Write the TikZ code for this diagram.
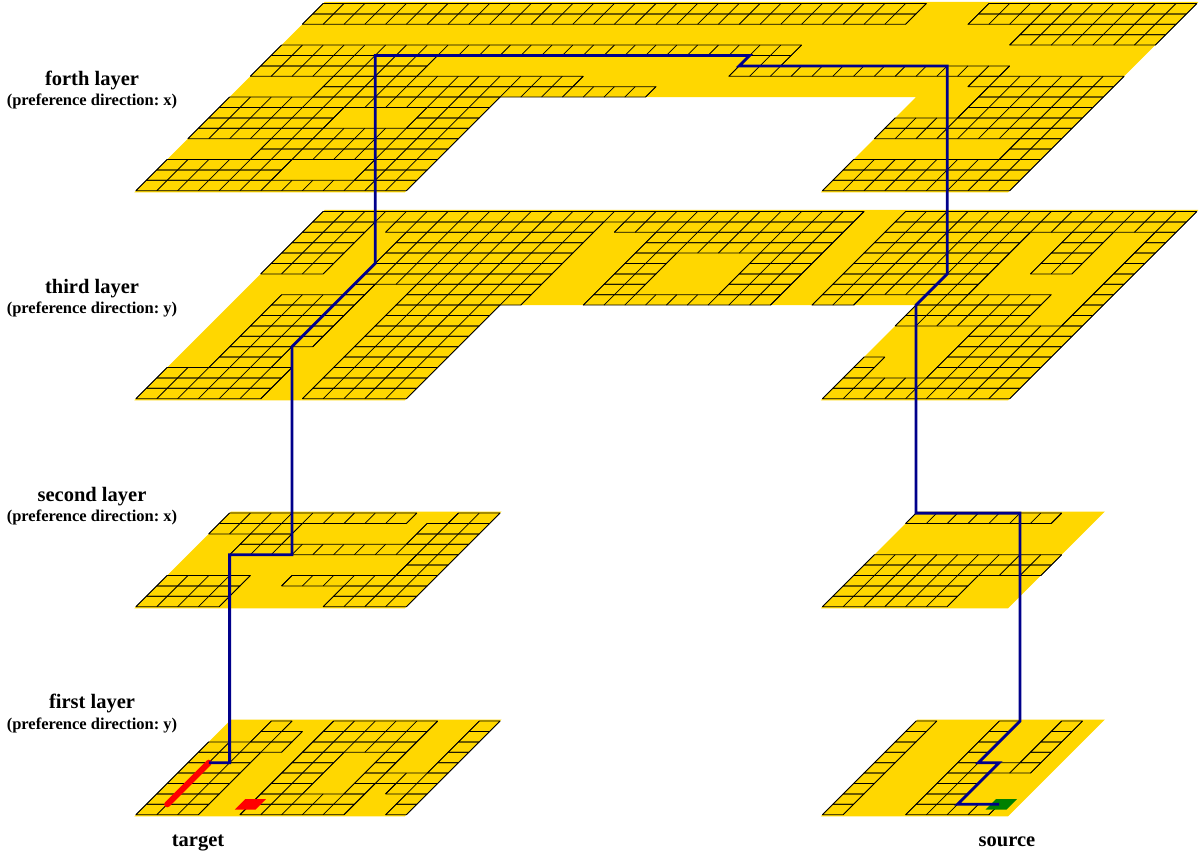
\documentclass[tikz,border=0pt]{standalone}
\usepackage{fontspec}
\setmainfont{Liberation Serif}
\definecolor{metal}{RGB}{255,215,0}
\definecolor{wire}{RGB}{0,0,139}
\definecolor{pinred}{RGB}{255,0,0}
\definecolor{pingreen}{RGB}{0,128,0}
\tikzset{
  layerframe/.style={x={(20.8pt,0pt)},y={(10.4pt,10.4pt)},shift={(136pt,#1)}},
  metalarea/.style={fill=metal,draw=none},
  gridline/.style={draw=black,line width=0.75pt,line join=round},
  wirepath/.style={draw=wire,line width=2.8pt,line join=miter},
  viabar/.style={draw=pinred,line width=6pt,line cap=round},
  redpin/.style={fill=pinred,draw=none},
  greenpin/.style={fill=pingreen,draw=none},
  layertitle/.style={anchor=base,font=\fontsize{20.5}{24}\selectfont\bfseries\frenchspacing,inner sep=0pt},
  layernote/.style={anchor=base,font=\fontsize{16.5}{20}\selectfont\bfseries\frenchspacing,inner sep=0pt}
}
\newcommand{\cellrun}[3]{%
  \draw[gridline] (#2,#1) -- (#3,#1) -- (#3,#1+1) -- (#2,#1+1) -- cycle;
  \foreach \k in {#2,...,#3} {\draw[gridline] (\k,#1) -- (\k,#1+1);}%
}
\newcommand{\rw}[2]{\foreach \a/\b in {#2} {\cellrun{#1}{\a}{\b}}}
\begin{document}
\begin{tikzpicture}
\useasboundingbox (0pt,0pt) rectangle (1201pt,-855pt);

% forth layer
\begin{scope}[layerframe=-190.7pt]
  \fill[metalarea] (0,-.15) -- (13,-.15) -- (13,9) -- (33,9) -- (33,-.15) -- (42,-.15) -- (42,18.15) -- (0,18.15) -- cycle;
  \rw{17}{0/29,32/42}
  \rw{16}{0/29,32/42}
  \rw{15}{35/42}
  \rw{14}{35/42}
  \rw{13}{0/25}
  \rw{12}{0/8,23/25}
  \rw{11}{0/8,23/36}
  \rw{10}{4/16,35/42}
  \rw{9}{4/20,36/42}
  \rw{8}{0/13,36/42}
  \rw{7}{0/6,10/13,36/42}
  \rw{6}{0/6,10/13,33/42}
  \rw{5}{0/13,33/42}
  \rw{4}{4/13,40/42}
  \rw{3}{4/13,40/42}
  \rw{2}{0/6,10/13,33/42}
  \rw{1}{0/6,10/13,33/42}
  \rw{0}{0/13,33/42}
  \coordinate (n7) at (5,13);
  \coordinate (n8) at (23,13);
  \coordinate (n9) at (23,12);
  \coordinate (n10) at (33,12);
\end{scope}

% third layer
\begin{scope}[layerframe=-398.7pt]
  \fill[metalarea] (0,-.15) -- (13,-.15) -- (13,9) -- (33,9) -- (33,-.15) -- (42,-.15) -- (42,18.15) -- (0,18.15) -- cycle;
  \rw{17}{0/26,28/42}
  \rw{16}{0/3,4/14,15/26,28/42}
  \rw{15}{0/3,5/14,17/26,28/35,37/39,41/42}
  \rw{14}{0/3,5/14,17/26,28/35,37/39,41/42}
  \rw{13}{0/3,5/14,17/19,23/26,28/35,37/39,41/42}
  \rw{12}{0/3,5/14,17/19,23/26,28/35,37/39,41/42}
  \rw{11}{5/14,17/19,23/26,28/35,41/42}
  \rw{10}{5/6,8/14,17/19,23/26,28/35,41/42}
  \rw{9}{2/6,8/14,17/26,28/30,33/39,41/42}
  \rw{8}{2/6,8/13,33/39,41/42}
  \rw{7}{2/6,8/13,33/39,41/42}
  \rw{6}{2/6,8/13,37/42}
  \rw{5}{2/6,8/13,37/42}
  \rw{4}{2/5,8/13,37/42}
  \rw{3}{2/5,8/13,33/34,37/42}
  \rw{2}{0/6,8/13,33/34,37/42}
  \rw{1}{0/6,8/13,33/42}
  \rw{0}{0/6,8/13,33/42}
  \coordinate (n5) at (5,5);
  \coordinate (n6) at (5,13);
  \coordinate (n11) at (33,12);
  \coordinate (n12) at (33,9);
\end{scope}

% second layer
\begin{scope}[layerframe=-606.7pt]
  \fill[metalarea] (0,-.15) -- (13,-.15) -- (13,9.15) -- (0,9.15) -- cycle;
  \fill[metalarea] (33,-.15) -- (42,-.15) -- (42,9.15) -- (33,9.15) -- cycle;
  \rw{8}{0/9,11/13,33/40}
  \rw{7}{0/4,10/13}
  \rw{6}{2/4,10/13}
  \rw{5}{2/13}
  \rw{4}{11/13,33/42}
  \rw{3}{11/13,33/42}
  \rw{2}{0/4,6/13,33/39}
  \rw{1}{0/4,9/13,33/39}
  \rw{0}{0/4,9/13,33/39}
  \coordinate (n3) at (2,5);
  \coordinate (n4) at (5,5);
  \coordinate (n13) at (33,9);
  \coordinate (n14) at (38,9);
\end{scope}

% first layer
\begin{scope}[layerframe=-814.7pt]
  \fill[metalarea] (0,-.15) -- (13,-.15) -- (13,9.15) -- (0,9.15) -- cycle;
  \fill[metalarea] (33,-.15) -- (42,-.15) -- (42,9.15) -- (33,9.15) -- cycle;
  \rw{8}{2/3,5/10,12/13,33/34,37/38,40/41}
  \rw{7}{2/4,5/10,12/13,33/34,37/38,40/41}
  \rw{6}{0/4,5/10,12/13,33/34,37/38,40/41}
  \rw{5}{0/3,5/7,9/10,12/13,33/34,37/38,40/41}
  \rw{4}{0/3,5/7,9/10,12/13,33/34,37/41}
  \rw{3}{0/3,5/7,9/13,33/34,37/39}
  \rw{2}{0/3,5/7,9/10,11/13,33/34,37/39}
  \rw{1}{0/3,5/10,12/13,33/34,37/39}
  \rw{0}{0/3,5/10,12/13,33/34,37/41}
  \fill[redpin] (4.5,.5) -- (5.5,.5) -- (5.5,1.5) -- (4.5,1.5) -- cycle;
  \fill[greenpin] (40.6,.5) -- (41.6,.5) -- (41.6,1.5) -- (40.6,1.5) -- cycle;
  \coordinate (n0) at (1,1);
  \coordinate (n1) at (1,5);
  \coordinate (n2) at (2,5);
  \coordinate (n15) at (38,9);
  \coordinate (n16) at (38,5);
  \coordinate (n17) at (39,5);
  \coordinate (n18) at (39,1);
  \coordinate (n19) at (41,1);
\end{scope}

\draw[viabar] (n0) -- (n1);
\draw[wirepath] (n1) -- (n2) -- (n3) -- (n4) -- (n5) -- (n6) -- (n7) -- (n8) -- (n9) -- (n10)
  -- (n11) -- (n12) -- (n13) -- (n14) -- (n15) -- (n16) -- (n17) -- (n18) -- (n19);

\node[layertitle] (t4) at (92pt,-85pt) {forth layer};
\node[layernote] (p4) at (92pt,-105pt) {(preference direction: x)};
\node[layertitle] (t3) at (92pt,-293pt) {third layer};
\node[layernote] (p3) at (92pt,-313pt) {(preference direction: y)};
\node[layertitle] (t2) at (92pt,-501pt) {second layer};
\node[layernote] (p2) at (92pt,-521pt) {(preference direction: x)};
\node[layertitle] (t1) at (92pt,-708pt) {first layer};
\node[layernote] (p1) at (92pt,-729pt) {(preference direction: y)};
\node[layertitle] (lt) at (198pt,-846pt) {target};
\node[layertitle] (ls) at (1007pt,-846pt) {source};
\end{tikzpicture}
\end{document}
